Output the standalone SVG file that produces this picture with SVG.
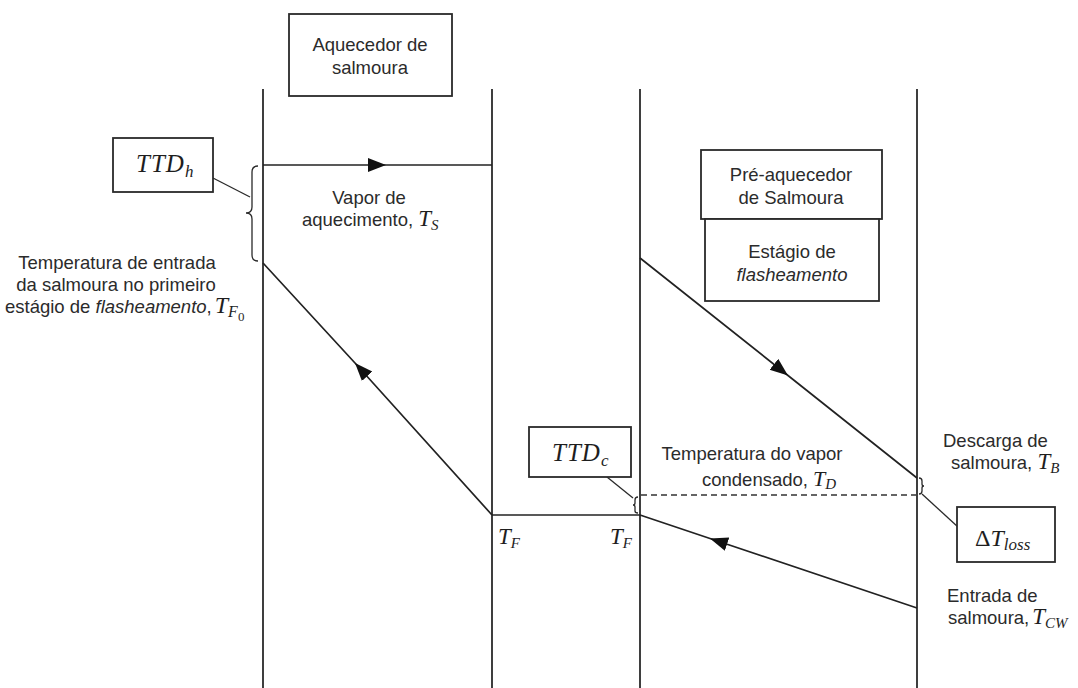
<svg xmlns="http://www.w3.org/2000/svg" width="1078" height="688" viewBox="0 0 1078 688">
  <style>
    .bg { fill: #ffffff; }
    .wall { stroke: #2a2a2a; stroke-width: 1.8; fill: none; }
    .flow { stroke: #222222; stroke-width: 1.7; fill: none; }
    .thin { stroke: #2a2a2a; stroke-width: 1.3; fill: none; }
    .dash { stroke: #333333; stroke-width: 1.5; fill: none; stroke-dasharray: 6 4; }
    .box { fill: #ffffff; stroke: #2a2a2a; stroke-width: 1.8; }
    .lbl { font-family: "Liberation Sans", Arial, sans-serif; font-size: 18.5px; fill: #2b2b2b; }
    .mid { text-anchor: middle; }
    .it { font-style: italic; }
    .math { font-family: "Liberation Serif", "Times New Roman", serif; font-style: italic; fill: #1e1e1e; }
  </style>
  <defs>
    <marker id="arrow" markerUnits="userSpaceOnUse" markerWidth="20" markerHeight="16" refX="18" refY="7" orient="auto">
      <path d="M0,0 L18,7 L0,14 Z" fill="#111111"/>
    </marker>
  </defs>

  <rect class="bg" x="0" y="0" width="1078" height="688"/>

  <!-- stage walls -->
  <g id="walls">
    <line class="wall" x1="263" y1="89" x2="263" y2="688"/>
    <line class="wall" x1="492" y1="89" x2="492" y2="688"/>
    <line class="wall" x1="640" y1="89" x2="640" y2="688"/>
    <line class="wall" x1="917" y1="89" x2="917" y2="688"/>
  </g>

  <!-- temperature profiles, braces and leaders -->
  <g id="connectors">
    <polyline class="flow" points="263,165 386,165 492,165" marker-mid="url(#arrow)"/>
    <polyline class="flow" points="492,515 355,363 263,263" marker-mid="url(#arrow)"/>
    <line class="flow" x1="492" y1="515" x2="640" y2="515"/>
    <polyline class="flow" points="640,258 788,375.5 917,478" marker-mid="url(#arrow)"/>
    <polyline class="flow" points="917,608 710,538.5 640,515" marker-mid="url(#arrow)"/>
    <line class="dash" x1="641" y1="495" x2="916" y2="495"/>

    <!-- TTD_h brace and leader -->
    <path class="thin" d="M258,166 Q252,166 252,172 L252,207 Q252,213 246,213 Q252,213 252,219 L252,255 Q252,261 258,261"/>
    <line class="thin" x1="213" y1="178" x2="250" y2="197"/>

    <!-- TTD_c brace and leader -->
    <path class="thin" d="M638,497 Q635,497 635,500 L635,503 Q635,505 633,505 Q635,505 635,507 L635,511 Q635,513 638,513"/>
    <line class="thin" x1="607" y1="477" x2="633" y2="498"/>

    <!-- delta T loss brace and leader -->
    <path class="thin" d="M919,478 Q922,478 922,481 L922,484 Q922,486 924,486 Q922,486 922,488 L922,491 Q922,494 919,494"/>
    <line class="thin" x1="922" y1="494" x2="958" y2="527"/>
  </g>

  <g id="brine-heater">
    <rect class="box" x="289" y="14" width="163" height="82"/>
    <text class="lbl mid" x="370" y="51">Aquecedor de</text>
    <text class="lbl mid" x="370" y="74">salmoura</text>
  </g>

  <g id="heating-steam">
    <text class="lbl mid" x="369" y="204">Vapor de</text>
    <text class="lbl" x="302" y="226">aquecimento, <tspan class="math" font-size="23">T</tspan><tspan class="math" font-size="15" dy="4">S</tspan></text>
  </g>

  <g id="ttd-h">
    <rect class="box" x="113" y="138" width="100" height="54"/>
    <text class="math" x="136" y="172" font-size="25" letter-spacing="1">TTD<tspan font-size="17" dy="5" letter-spacing="0">h</tspan></text>
  </g>

  <g id="first-stage-inlet">
    <text class="lbl mid" x="117" y="269">Temperatura de entrada</text>
    <text class="lbl mid" x="116" y="291">da salmoura no primeiro</text>
    <text class="lbl" x="5" y="313">estágio de <tspan class="it">flasheamento</tspan>,<tspan class="math" font-size="24" dx="3">T</tspan><tspan class="math" font-size="16" dy="4">F</tspan><tspan font-family="Liberation Serif, serif" font-size="13" dy="4">0</tspan></text>
  </g>

  <g id="preheater">
    <rect class="box" x="701" y="150" width="181" height="69"/>
    <text class="lbl mid" x="791" y="181">Pré-aquecedor</text>
    <text class="lbl mid" x="791" y="204">de Salmoura</text>
  </g>

  <g id="flash-stage">
    <rect class="box" x="705" y="219" width="174" height="82"/>
    <text class="lbl mid" x="792" y="258">Estágio de</text>
    <text class="lbl mid it" x="792" y="281">flasheamento</text>
  </g>

  <g id="ttd-c">
    <rect class="box" x="529" y="427" width="102" height="50"/>
    <text class="math" x="552" y="461" font-size="25" letter-spacing="1">TTD<tspan font-size="17" dy="5" letter-spacing="0">c</tspan></text>
  </g>

  <g id="tf-labels">
    <text class="math" x="498" y="544" font-size="23">T<tspan font-size="15" dy="4">F</tspan></text>
    <text class="math" x="610" y="544" font-size="23">T<tspan font-size="15" dy="4">F</tspan></text>
  </g>

  <g id="condensate">
    <text class="lbl mid" x="752" y="460">Temperatura do vapor</text>
    <text class="lbl" x="702" y="486">condensado, <tspan class="math" font-size="22">T</tspan><tspan class="math" font-size="15" dy="3">D</tspan></text>
  </g>

  <g id="brine-discharge">
    <text class="lbl" x="943" y="447">Descarga de</text>
    <text class="lbl" x="951" y="469">salmoura, <tspan class="math" font-size="23">T</tspan><tspan class="math" font-size="15" dy="4">B</tspan></text>
  </g>

  <g id="delta-t-loss">
    <rect class="box" x="957" y="507" width="98" height="55"/>
    <text x="975" y="546" font-size="24" font-family="Liberation Serif, serif" fill="#1e1e1e">Δ<tspan font-style="italic">T</tspan><tspan font-style="italic" font-size="17" dy="4">loss</tspan></text>
  </g>

  <g id="brine-inlet">
    <text class="lbl" x="947" y="602">Entrada de</text>
    <text class="lbl" x="948" y="624">salmoura,<tspan class="math" font-size="23" dx="3">T</tspan><tspan class="math" font-size="15" dy="4">CW</tspan></text>
  </g>
</svg>
